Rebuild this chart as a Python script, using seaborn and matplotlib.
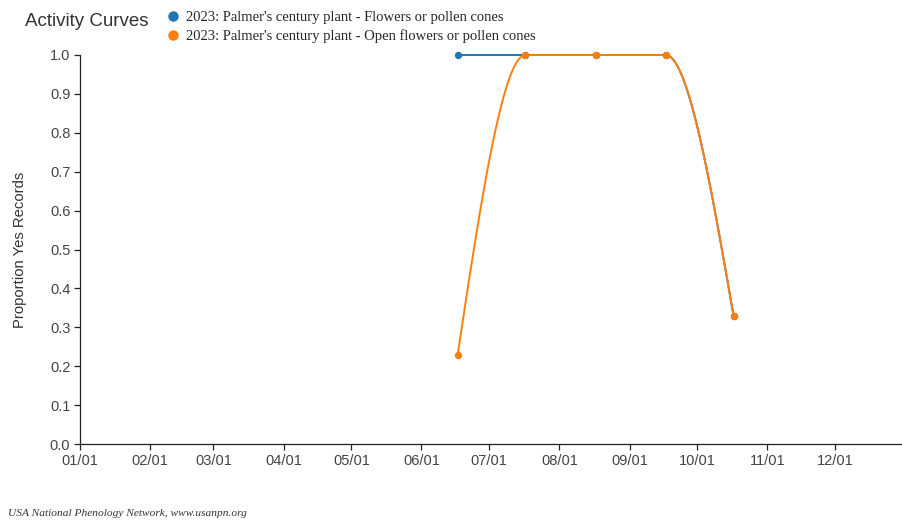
import numpy as np
import pandas as pd
import matplotlib
matplotlib.use("Agg")
import matplotlib.pyplot as plt
from matplotlib.lines import Line2D
import seaborn as sns

# day-of-year for each observation (mid month, 2023)
days_flowers = [168, 198, 229, 260, 290]
prop_flowers = [1.0, 1.0, 1.0, 1.0, 0.33]
days_open = [168, 198, 229, 260, 290]
prop_open = [0.23, 1.0, 1.0, 1.0, 0.33]

month_days = [1, 32, 60, 91, 121, 152, 182, 213, 244, 274, 305, 335]
month_labels = ["01/01", "02/01", "03/01", "04/01", "05/01", "06/01",
                "07/01", "08/01", "09/01", "10/01", "11/01", "12/01"]

series_names = ["2023: Palmer's century plant - Flowers or pollen cones",
                "2023: Palmer's century plant - Open flowers or pollen cones"]
colors = ["#1f77b4", "#ff7f0e"]


def monotone_curve(x, y, n=40):
    # same idea as d3.curveMonotoneX, just for drawing the line
    x = np.asarray(x, float)
    y = np.asarray(y, float)
    h = np.diff(x)
    s = np.diff(y) / h
    t = np.zeros(len(x))
    for i in range(1, len(x) - 1):
        if s[i - 1] * s[i] <= 0:
            t[i] = 0
        else:
            p = (s[i - 1] * h[i] + s[i] * h[i - 1]) / (h[i - 1] + h[i])
            t[i] = np.sign(s[i - 1]) * min(abs(s[i - 1]), abs(s[i]), 0.5 * abs(p)) * 2
    t[0] = (3 * s[0] - t[1]) / 2
    t[-1] = (3 * s[-1] - t[-2]) / 2
    xs, ys = [], []
    for i in range(len(x) - 1):
        u = np.linspace(0, 1, n)
        h00 = 2 * u**3 - 3 * u**2 + 1
        h10 = u**3 - 2 * u**2 + u
        h01 = -2 * u**3 + 3 * u**2
        h11 = u**3 - u**2
        xs.extend(x[i] + u * h[i])
        ys.extend(h00 * y[i] + h10 * h[i] * t[i] + h01 * y[i + 1] + h11 * h[i] * t[i + 1])
    return np.array(xs), np.array(ys)


sns.set_style("white")
plt.rcParams['font.family'] = ['Liberation Sans', 'DejaVu Sans']

fig = plt.figure(figsize=(9.03, 5.21), dpi=100)
ax = fig.add_axes([80 / 903, 1 - 444 / 521, 822 / 903, 389 / 521])

for days, props, col in [(days_flowers, prop_flowers, colors[0]),
                         (days_open, prop_open, colors[1])]:
    cx, cy = monotone_curve(days, props)
    curve = pd.DataFrame({"day": cx, "prop": cy})
    sns.lineplot(data=curve, x="day", y="prop", sort=False, color=col,
                 linewidth=1.4, ax=ax)
    ax.lines[-1].set_clip_on(False)
    pts = pd.DataFrame({"day": days, "prop": props})
    sns.scatterplot(data=pts, x="day", y="prop", color=col, s=28,
                    edgecolor=col, linewidth=0, ax=ax, zorder=3, clip_on=False)

ax.set_xlim(1, 364.5)
ax.set_ylim(0, 1.0)
ax.set_xticks(month_days)
ax.set_xticklabels(month_labels)
ax.set_yticks(np.arange(0, 1.01, 0.1))
ax.set_yticklabels([f"{v:.1f}" for v in np.arange(0, 1.01, 0.1)])
ax.tick_params(axis="both", direction="out", length=4.5, width=0.9,
               bottom=True, left=True,
               color="#222222", labelcolor="#444444", labelsize=10.5, pad=2.5)
ax.set_xlabel("")
ax.set_ylabel("Proportion Yes Records", fontsize=10.7, color="#333333")
ax.yaxis.set_label_coords((27 - 80) / 822, 0.5)
for side in ["top", "right"]:
    ax.spines[side].set_visible(False)
for side in ["left", "bottom"]:
    ax.spines[side].set_color("#222222")
    ax.spines[side].set_linewidth(0.9)

fig.text(25 / 903, 1 - 21 / 521, "Activity Curves", fontsize=13.5,
         color="#333333", va="center", ha="left")

handles = [Line2D([], [], marker="o", linestyle="", color=c, markersize=6.5)
           for c in colors]
fig.legend(handles, series_names, loc="upper left",
           bbox_to_anchor=(167 / 903, 1 - 11 / 521), frameon=False,
           prop={"family": "Liberation Serif", "size": 10.5},
           handletextpad=0.5, labelspacing=0.33, borderaxespad=0,
           handlelength=0.8, borderpad=0)

fig.text(8 / 903, 1 - 513 / 521, "USA National Phenology Network, www.usanpn.org",
         fontsize=8.2, family="Liberation Serif", style="italic",
         color="#333333", va="center", ha="left")

fig.savefig("out.png", dpi=100)
